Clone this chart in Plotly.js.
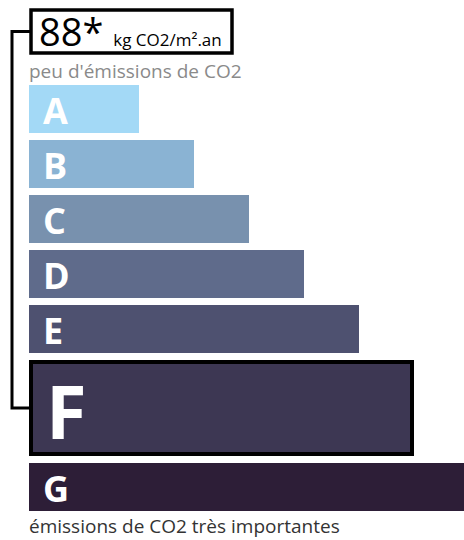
<!DOCTYPE html>
<html>
<head>
<meta charset="utf-8">
<script src="https://cdn.plot.ly/plotly-3.0.1.min.js"></script>
<style>
  html, body { margin: 0; padding: 0; background: #fff; }
  #chart { width: 464px; height: 540px; }
</style>
</head>
<body>
<div id="chart"></div>
<script>
// ---- data ----
const classes = ['A', 'B', 'C', 'D', 'E', 'F', 'G'];
const classValues = [2, 3, 4, 5, 6, 7, 8];          // relative bar lengths
const currentValue = 88;
const currentClass = 'F';
const unitLabel = 'kg CO2/m².an';
const topLabel = "peu d'émissions de CO2";
const bottomLabel = 'émissions de CO2 très importantes';

// ---- styles ----
const classColors = ['#a3d9f6', '#8ab3d3', '#7891ae', '#5f6b8b', '#4e5170', '#3d3753', '#2d1e37'];
const W = 464, H = 540;
const unitPx = 55;          // pixels per value unit
const originPx = 29;        // left edge of bars
const firstTop = 85, barH = 48, gap = 7, hiLine = 4;
const FONT = 'Open Sans, Noto Sans, sans-serif';

// layout of bars (pixel y-axis)
const centers = [], heights = [], bases = [], ends = [], lineW = [];
let cursorY = firstTop;
classes.forEach((c, i) => {
  const hi = c === currentClass;
  const h = hi ? 2 * barH : barH;
  centers.push(cursorY + h / 2);
  const lw = hi ? hiLine : 0;
  heights.push(h - lw);
  lineW.push(lw);
  bases.push(lw / 2 / unitPx);
  ends.push(classValues[i] - lw / unitPx);
  cursorY += h + gap;
});
const hiIdx = classes.indexOf(currentClass);
const px2paper = px => px / W;

const trace = {
  type: 'bar',
  orientation: 'h',
  y: centers,
  x: ends,
  base: bases,
  width: heights,
  marker: { color: classColors, line: { color: '#000', width: lineW } },
  hoverinfo: 'skip'
};

const annotations = classes.map((c, i) => ({
  x: 0, y: centers[i], xref: 'x', yref: 'y',
  xanchor: 'left', yanchor: 'middle',
  xshift: c === currentClass ? 15 : 12,
  yshift: c === currentClass ? -2 : -1,
  text: '<b>' + c + '</b>', showarrow: false,
  font: { family: FONT, size: c === currentClass ? 74 : 36, color: '#fff', weight: 700 }
}));

annotations.push({
  x: px2paper(37), y: 31, xref: 'paper', yref: 'y',
  xanchor: 'left', yanchor: 'middle', showarrow: false,
  text: '<span style="font-size:38px">' + currentValue + '*</span> <span style="font-size:17px">' + unitLabel + '</span>',
  font: { family: FONT, size: 38, color: '#000' }
});
annotations.push({
  x: px2paper(27), y: 71, xref: 'paper', yref: 'y',
  xanchor: 'left', yanchor: 'middle', showarrow: false,
  text: topLabel, font: { family: FONT, size: 19, color: '#8a8a8a' }
});
annotations.push({
  x: px2paper(27), y: 526, xref: 'paper', yref: 'y',
  xanchor: 'left', yanchor: 'middle', showarrow: false,
  text: bottomLabel, font: { family: FONT, size: 19, color: '#333' }
});

const shapes = [
  {
    type: 'path', xref: 'paper', yref: 'y',
    path: `M ${px2paper(31)},31.5 L ${px2paper(12)},31.5 L ${px2paper(12)},${centers[hiIdx]} L ${px2paper(originPx)},${centers[hiIdx]}`,
    line: { color: '#000', width: 3 }
  },
  {
    type: 'rect', xref: 'paper', yref: 'y',
    x0: px2paper(31), x1: px2paper(232), y0: 10, y1: 53,
    line: { color: '#000', width: 3.5 }, fillcolor: '#fff'
  }
];

const layout = {
  width: W, height: H,
  margin: { l: 0, r: 0, t: 0, b: 0, pad: 0 },
  paper_bgcolor: '#fff', plot_bgcolor: '#fff',
  showlegend: false,
  bargap: 0,
  xaxis: { range: [-originPx / unitPx, (W - originPx) / unitPx], visible: false, fixedrange: true },
  yaxis: { range: [H, 0], visible: false, fixedrange: true },
  annotations: annotations,
  shapes: shapes
};

Plotly.newPlot('chart', [trace], layout, { staticPlot: true, displayModeBar: false });
</script>
</body>
</html>
